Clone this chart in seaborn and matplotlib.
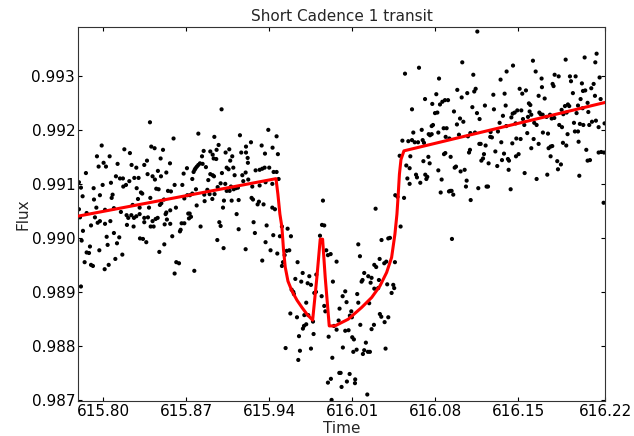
import numpy as np
import pandas as pd
import matplotlib
matplotlib.use("Agg")
import matplotlib.pyplot as plt
import seaborn as sns

pre_transit = [
    (615.7795, 0.99103), (615.7795, 0.99053), (615.7804, 0.99038), (615.7812, 0.99093), (615.7812, 0.98910),
    (615.7818, 0.98995), (615.7826, 0.99077), (615.7829, 0.99013), (615.7843, 0.98955), (615.7854, 0.99120),
    (615.7860, 0.99046), (615.7860, 0.98973), (615.7880, 0.98972), (615.7888, 0.98984), (615.7897, 0.99023),
    (615.7897, 0.98950), (615.7913, 0.98948), (615.7919, 0.99092), (615.7922, 0.99071), (615.7930, 0.99038),
    (615.7942, 0.99056), (615.7947, 0.99151), (615.7953, 0.99028), (615.7961, 0.99132), (615.7967, 0.98977),
    (615.7972, 0.99079), (615.7972, 0.99031), (615.7987, 0.99171), (615.7995, 0.99098), (615.8003, 0.99139),
    (615.8012, 0.98942), (615.8015, 0.99052), (615.8015, 0.99026), (615.8023, 0.99132), (615.8029, 0.99002),
    (615.8037, 0.98987), (615.8046, 0.98950), (615.8054, 0.99151), (615.8060, 0.99031), (615.8065, 0.99102),
    (615.8071, 0.99074), (615.8079, 0.99080), (615.8090, 0.99055), (615.8090, 0.99009), (615.8102, 0.98961),
    (615.8107, 0.99114), (615.8116, 0.98990), (615.8121, 0.99137), (615.8135, 0.99001), (615.8141, 0.99110),
    (615.8149, 0.99048), (615.8161, 0.98969), (615.8166, 0.99110), (615.8169, 0.99095), (615.8178, 0.99164),
    (615.8192, 0.99098), (615.8197, 0.99042), (615.8200, 0.99024), (615.8211, 0.99037), (615.8220, 0.99105),
    (615.8225, 0.99157), (615.8237, 0.99042), (615.8239, 0.99135), (615.8248, 0.99061), (615.8256, 0.99021),
    (615.8259, 0.99037), (615.8262, 0.99111), (615.8279, 0.99130), (615.8279, 0.99040), (615.8282, 0.99092),
    (615.8293, 0.99072), (615.8298, 0.99111), (615.8307, 0.99056), (615.8307, 0.99044), (615.8310, 0.98999),
    (615.8318, 0.99084), (615.8329, 0.99082), (615.8335, 0.98998), (615.8346, 0.99135), (615.8346, 0.99037),
    (615.8346, 0.99029), (615.8363, 0.98992), (615.8369, 0.99143), (615.8374, 0.99118), (615.8377, 0.99038),
    (615.8386, 0.99056), (615.8394, 0.99214), (615.8397, 0.99074), (615.8400, 0.99021), (615.8405, 0.99169),
    (615.8416, 0.99114), (615.8416, 0.99031), (615.8425, 0.99021), (615.8433, 0.99166), (615.8436, 0.99108),
    (615.8442, 0.99035), (615.8447, 0.99091), (615.8459, 0.99037), (615.8461, 0.99124), (615.8467, 0.99090),
    (615.8473, 0.98974), (615.8478, 0.99061), (615.8484, 0.99147), (615.8487, 0.99114), (615.8490, 0.99064),
    (615.8504, 0.99163), (615.8512, 0.99071), (615.8515, 0.98988), (615.8518, 0.99025), (615.8526, 0.99044),
    (615.8532, 0.99121), (615.8532, 0.99047), (615.8537, 0.99034), (615.8546, 0.99087), (615.8563, 0.99138),
    (615.8565, 0.99051), (615.8565, 0.99026), (615.8571, 0.99086), (615.8582, 0.99003), (615.8593, 0.99184),
    (615.8602, 0.99098), (615.8602, 0.98934), (615.8613, 0.99056), (615.8616, 0.98955),
    (615.8639, 0.98953), (615.8647, 0.99012), (615.8653, 0.99015), (615.8661, 0.99027), (615.8667, 0.99098),
    (615.8678, 0.99119), (615.8684, 0.99073), (615.8684, 0.99027), (615.8706, 0.99129), (615.8709, 0.99079),
    (615.8717, 0.99045), (615.8723, 0.99036), (615.8729, 0.99045), (615.8731, 0.99079), (615.8740, 0.99039),
    (615.8751, 0.99109), (615.8751, 0.99082), (615.8762, 0.99122), (615.8768, 0.98939), (615.8771, 0.99126),
    (615.8779, 0.99129), (615.8782, 0.99090), (615.8788, 0.99060), (615.8790, 0.99132), (615.8802, 0.99193),
    (615.8802, 0.99135), (615.8816, 0.99138), (615.8821, 0.99021), (615.8833, 0.99151), (615.8838, 0.99137),
    (615.8847, 0.99161), (615.8852, 0.99080), (615.8855, 0.99068), (615.8866, 0.99131), (615.8878, 0.99089),
    (615.8886, 0.99107), (615.8897, 0.99081), (615.8903, 0.99160), (615.8903, 0.99118), (615.8920, 0.99072),
    (615.8923, 0.99154), (615.8923, 0.99116), (615.8931, 0.99147), (615.8934, 0.99114), (615.8937, 0.99187),
    (615.8939, 0.99081), (615.8953, 0.99146), (615.8956, 0.99163), (615.8962, 0.98996), (615.8965, 0.99094),
    (615.8973, 0.99172), (615.8979, 0.99029), (615.8990, 0.99101), (615.8990, 0.99022), (615.8998, 0.99238),
    (615.9001, 0.99120), (615.9010, 0.99056), (615.9015, 0.98981), (615.9018, 0.99069), (615.9029, 0.99100),
    (615.9032, 0.99158), (615.9041, 0.99130), (615.9041, 0.99087), (615.9057, 0.99127), (615.9063, 0.99164),
    (615.9066, 0.99087), (615.9071, 0.99143), (615.9077, 0.99095), (615.9083, 0.99069), (615.9088, 0.99151),
    (615.9097, 0.99130), (615.9100, 0.99090), (615.9108, 0.99116), (615.9119, 0.99092), (615.9125, 0.99044),
    (615.9136, 0.99093), (615.9142, 0.99070), (615.9142, 0.99016), (615.9153, 0.99190), (615.9164, 0.99158),
    (615.9173, 0.99116), (615.9181, 0.99105), (615.9201, 0.99121), (615.9201, 0.98979), (615.9204, 0.99169),
    (615.9204, 0.99158), (615.9218, 0.99148), (615.9220, 0.99139), (615.9223, 0.99108), (615.9246, 0.99177),
    (615.9251, 0.99074), (615.9257, 0.99095), (615.9263, 0.99071), (615.9268, 0.99029), (615.9279, 0.99009),
    (615.9285, 0.99125), (615.9302, 0.99062), (615.9313, 0.99067), (615.9319, 0.99126), (615.9319, 0.99097),
    (615.9336, 0.99171), (615.9341, 0.99128), (615.9341, 0.98958), (615.9352, 0.99062), (615.9361, 0.99130),
    (615.9364, 0.99156), (615.9369, 0.99103), (615.9369, 0.98992), (615.9378, 0.99023), (615.9392, 0.99200),
    (615.9400, 0.99130), (615.9411, 0.98977), (615.9426, 0.99100), (615.9426, 0.99056), (615.9428, 0.99167),
    (615.9434, 0.99005), (615.9437, 0.99122), (615.9448, 0.99053), (615.9462, 0.99188), (615.9462, 0.99122),
    (615.9468, 0.98971), (615.9473, 0.99155), (615.9479, 0.99109), (615.9490, 0.99003),
]

in_transit = [
    (615.9507, 0.99021), (615.9507, 0.98948), (615.9516, 0.98955), (615.9530, 0.98968), (615.9538, 0.98796),
    (615.9547, 0.98976), (615.9555, 0.99017), (615.9569, 0.98977), (615.9578, 0.98860), (615.9583, 0.99003),
    (615.9589, 0.98904), (615.9603, 0.98900), (615.9608, 0.98896), (615.9620, 0.98924), (615.9634, 0.98853),
    (615.9639, 0.98955), (615.9645, 0.98774), (615.9651, 0.98818), (615.9659, 0.98791), (615.9670, 0.98919),
    (615.9682, 0.98935), (615.9684, 0.98832), (615.9693, 0.98837), (615.9696, 0.98857), (615.9712, 0.98880),
    (615.9712, 0.98840), (615.9724, 0.98916), (615.9729, 0.98857), (615.9738, 0.98929), (615.9752, 0.98913),
    (615.9752, 0.98795), (615.9769, 0.98845), (615.9774, 0.98822), (615.9780, 0.98898), (615.9794, 0.98900),
    (615.9797, 0.98932), (615.9828, 0.99004), (615.9842, 0.98892), (615.9845, 0.99024), (615.9853, 0.99069),
    (615.9864, 0.99023), (615.9864, 0.98874), (615.9873, 0.98864), (615.9881, 0.98977), (615.9895, 0.98968),
    (615.9895, 0.98732), (615.9901, 0.98817), (615.9918, 0.98970), (615.9920, 0.98739), (615.9926, 0.98700),
    (615.9932, 0.98778), (615.9937, 0.98919), (615.9946, 0.98837), (615.9968, 0.98956), (615.9968, 0.98830),
    (615.9985, 0.98847), (615.9991, 0.98750), (615.9993, 0.98869),
    (616.0002, 0.98750), (616.0010, 0.98724), (616.0019, 0.98892), (616.0021, 0.98797), (616.0041, 0.98901),
    (616.0041, 0.98828), (616.0052, 0.98881), (616.0055, 0.98734), (616.0069, 0.98829), (616.0078, 0.98748),
    (616.0080, 0.98856), (616.0092, 0.98864), (616.0097, 0.98853), (616.0100, 0.98816), (616.0109, 0.98789),
    (616.0114, 0.98812), (616.0123, 0.98731), (616.0125, 0.98738), (616.0137, 0.98793), (616.0142, 0.98896),
    (616.0151, 0.98988), (616.0151, 0.98880), (616.0165, 0.98966), (616.0168, 0.98839), (616.0179, 0.98919),
    (616.0187, 0.98922), (616.0190, 0.98785), (616.0201, 0.98935), (616.0201, 0.98792), (616.0215, 0.98806),
    (616.0227, 0.98710), (616.0232, 0.98789), (616.0235, 0.98929), (616.0243, 0.98879), (616.0249, 0.98789),
    (616.0255, 0.98917), (616.0263, 0.98926), (616.0263, 0.98831), (616.0283, 0.98839), (616.0286, 0.98950),
    (616.0286, 0.98906), (616.0297, 0.99054), (616.0302, 0.98946), (616.0319, 0.98907), (616.0325, 0.98922),
    (616.0331, 0.98961), (616.0333, 0.98859), (616.0345, 0.98854), (616.0347, 0.98996), (616.0370, 0.98953),
    (616.0373, 0.98844), (616.0381, 0.98795), (616.0387, 0.98956), (616.0395, 0.98914), (616.0404, 0.98999),
    (616.0404, 0.98853), (616.0418, 0.99000), (616.0432, 0.98898), (616.0446, 0.98913), (616.0454, 0.98907),
    (616.0460, 0.98955), (616.0463, 0.99079), (616.0482, 0.99076), (616.0508, 0.99021),
]

post_transit = [
    (616.0500, 0.99152), (616.0523, 0.99180), (616.0537, 0.99074), (616.0545, 0.99304), (616.0556, 0.99134),
    (616.0565, 0.99110), (616.0573, 0.99179), (616.0584, 0.99129), (616.0584, 0.99100), (616.0590, 0.99151),
    (616.0604, 0.99238), (616.0604, 0.99181), (616.0615, 0.99195), (616.0627, 0.99177), (616.0638, 0.99117),
    (616.0646, 0.99112), (616.0655, 0.99177), (616.0663, 0.99315), (616.0674, 0.99102), (616.0686, 0.99200),
    (616.0694, 0.99181), (616.0700, 0.99142), (616.0705, 0.99176), (616.0714, 0.99257), (616.0716, 0.99117),
    (616.0725, 0.99109), (616.0733, 0.99113), (616.0742, 0.99150), (616.0745, 0.99192), (616.0753, 0.99138),
    (616.0756, 0.99190), (616.0770, 0.99207), (616.0770, 0.99192), (616.0775, 0.99248), (616.0781, 0.99209),
    (616.0798, 0.99231), (616.0809, 0.99266), (616.0818, 0.99232), (616.0826, 0.99195), (616.0826, 0.99125),
    (616.0832, 0.99295), (616.0840, 0.99247), (616.0846, 0.99084), (616.0854, 0.99108), (616.0860, 0.99252),
    (616.0871, 0.99203), (616.0874, 0.99155), (616.0882, 0.99255), (616.0885, 0.99157), (616.0888, 0.99187),
    (616.0896, 0.99203), (616.0908, 0.99255), (616.0916, 0.99086), (616.0919, 0.99184), (616.0927, 0.99087),
    (616.0930, 0.99150), (616.0938, 0.99087), (616.0941, 0.98998), (616.0952, 0.99080), (616.0958, 0.99234),
    (616.0964, 0.99130), (616.0975, 0.99132), (616.0983, 0.99210), (616.0986, 0.99274), (616.1000, 0.99191),
    (616.1009, 0.99221), (616.1014, 0.99123), (616.1023, 0.99260), (616.1028, 0.99325), (616.1037, 0.99215),
    (616.1048, 0.99126), (616.1059, 0.99095), (616.1065, 0.99106), (616.1070, 0.99268), (616.1076, 0.99188),
    (616.1085, 0.99158), (616.1093, 0.99163), (616.1096, 0.99194), (616.1099, 0.99070), (616.1113, 0.99242),
    (616.1121, 0.99302), (616.1129, 0.99271), (616.1135, 0.99195), (616.1141, 0.99276), (616.1152, 0.99231),
    (616.1155, 0.99382), (616.1163, 0.99092), (616.1172, 0.99174), (616.1174, 0.99220), (616.1183, 0.99174),
    (616.1189, 0.99143), (616.1203, 0.99147), (616.1211, 0.99155), (616.1219, 0.99245), (616.1225, 0.99171),
    (616.1233, 0.99095), (616.1245, 0.99095), (616.1250, 0.99138), (616.1264, 0.99187), (616.1267, 0.99196),
    (616.1278, 0.99186), (616.1290, 0.99265), (616.1295, 0.99238), (616.1307, 0.99160), (616.1323, 0.99133),
    (616.1329, 0.99197), (616.1343, 0.99213), (616.1351, 0.99293), (616.1357, 0.99177), (616.1363, 0.99144),
    (616.1371, 0.99226), (616.1380, 0.99156), (616.1385, 0.99267), (616.1394, 0.99245), (616.1399, 0.99207),
    (616.1402, 0.99308), (616.1413, 0.99146), (616.1419, 0.99126), (616.1422, 0.99143), (616.1436, 0.99090),
    (616.1442, 0.99223), (616.1450, 0.99175), (616.1453, 0.99230), (616.1456, 0.99319), (616.1470, 0.99232),
    (616.1478, 0.99212), (616.1481, 0.99151), (616.1484, 0.99184), (616.1492, 0.99236), (616.1503, 0.99155),
    (616.1512, 0.99276), (616.1520, 0.99183), (616.1526, 0.99236), (616.1534, 0.99267), (616.1540, 0.99220),
    (616.1551, 0.99209), (616.1554, 0.99120), (616.1565, 0.99273), (616.1576, 0.99194), (616.1582, 0.99224),
    (616.1590, 0.99249), (616.1596, 0.99234), (616.1602, 0.99246), (616.1610, 0.99228), (616.1610, 0.99166),
    (616.1624, 0.99328), (616.1630, 0.99183), (616.1635, 0.99213), (616.1647, 0.99308), (616.1655, 0.99209),
    (616.1655, 0.99109), (616.1672, 0.99263), (616.1672, 0.99174), (616.1678, 0.99232), (616.1689, 0.99229),
    (616.1697, 0.99295), (616.1700, 0.99279), (616.1706, 0.99228), (616.1708, 0.99195), (616.1723, 0.99258),
    (616.1739, 0.99224), (616.1745, 0.99117), (616.1751, 0.99193), (616.1756, 0.99166), (616.1768, 0.99228),
    (616.1773, 0.99169), (616.1773, 0.99151), (616.1782, 0.99221), (616.1787, 0.99170), (616.1790, 0.99285),
    (616.1798, 0.99281), (616.1804, 0.99222), (616.1807, 0.99302), (616.1829, 0.99142), (616.1835, 0.99127),
    (616.1841, 0.99299), (616.1846, 0.99209), (616.1860, 0.99136), (616.1866, 0.99237), (616.1869, 0.99205),
    (616.1877, 0.99176), (616.1880, 0.99229), (616.1894, 0.99244), (616.1900, 0.99330), (616.1905, 0.99171),
    (616.1908, 0.99232), (616.1916, 0.99192), (616.1919, 0.99247), (616.1930, 0.99244), (616.1936, 0.99299),
    (616.1945, 0.99290), (616.1961, 0.99268), (616.1970, 0.99213), (616.1978, 0.99197), (616.1984, 0.99299),
    (616.1992, 0.99231), (616.2004, 0.99245), (616.2004, 0.99197), (616.2009, 0.99178), (616.2015, 0.99115),
    (616.2020, 0.99211), (616.2026, 0.99257), (616.2037, 0.99286), (616.2043, 0.99240), (616.2046, 0.99272),
    (616.2049, 0.99209), (616.2060, 0.99334), (616.2065, 0.99273), (616.2074, 0.99163), (616.2085, 0.99250),
    (616.2085, 0.99143), (616.2091, 0.99233), (616.2099, 0.99209), (616.2105, 0.99144), (616.2116, 0.99277),
    (616.2122, 0.99215), (616.2136, 0.99285), (616.2147, 0.99263), (616.2150, 0.99325), (616.2155, 0.99217),
    (616.2161, 0.99341), (616.2178, 0.99205), (616.2178, 0.99158), (616.2186, 0.99297), (616.2195, 0.99257),
    (616.2200, 0.99159), (616.2220, 0.99065), (616.2223, 0.99158), (616.2228, 0.99212),
]

# fitted transit model (red curve)
model_time = [615.7787, 615.9457, 615.9473, 615.9490, 615.9507, 615.9520, 615.9535, 615.9558,
              615.9591, 615.9634, 615.9676, 615.9718, 615.9766, 615.9802, 615.9830, 615.9850,
              615.9872, 615.9906, 615.9954, 616.0066, 616.0179, 616.0264, 616.0334, 616.0390,
              616.0432, 616.0460, 616.0477, 616.0488, 616.0498, 616.0511, 616.0536, 616.2232]
model_flux = [0.990402, 0.991096, 0.990809, 0.990439, 0.990198, 0.989791, 0.989457, 0.989198,
              0.989019, 0.988846, 0.988711, 0.988587, 0.988476, 0.989272, 0.989976, 0.989976,
              0.989272, 0.988370, 0.988370, 0.988494, 0.988711, 0.988896, 0.989111, 0.989359,
              0.989637, 0.990069, 0.990439, 0.990809, 0.991180, 0.991450, 0.991611, 0.992507]

x_ticks = [615.80, 615.87, 615.94, 616.01, 616.08, 616.15, 616.2232]
x_tick_labels = ["615.80", "615.87", "615.94", "616.01", "616.08", "616.15", "616.22"]
y_ticks = [0.987, 0.988, 0.989, 0.990, 0.991, 0.992, 0.993]
y_tick_labels = ["0.987", "0.988", "0.989", "0.990", "0.991", "0.992", "0.993"]

obs = pd.DataFrame(pre_transit + in_transit + post_transit, columns=["Time", "Flux"])
model = pd.DataFrame({"Time": model_time, "Flux": model_flux})

sns.set_style("white")
plt.rcParams["font.family"] = ["DejaVu Sans"]

fig = plt.figure(figsize=(6.34, 4.36), dpi=100)
ax = fig.add_axes([0.123, 0.0803, 0.9543 - 0.123, 0.9388 - 0.0803])

sns.scatterplot(data=obs, x="Time", y="Flux", ax=ax, color="black", s=9,
                linewidth=0, edgecolor="none", zorder=2)
sns.lineplot(data=model, x="Time", y="Flux", ax=ax, color="red", linewidth=2.2,
             sort=False, estimator=None, zorder=3)

ax.set_xlim(615.7787, 616.2232)
ax.set_ylim(0.98698, 0.99391)
ax.set_xticks(x_ticks)
ax.set_xticklabels(x_tick_labels)
ax.set_yticks(y_ticks)
ax.set_yticklabels(y_tick_labels)
ax.tick_params(direction="in", length=3, width=0.8, top=True, right=True,
               bottom=True, left=True, labelsize=11, colors="black", pad=2)
for sp in ax.spines.values():
    sp.set_color("#333333")
    sp.set_linewidth(0.8)
ax.set_xlabel("Time", fontsize=11, labelpad=1.5)
ax.set_ylabel("Flux", fontsize=11, labelpad=1)
ax.set_title("Short Cadence 1 transit", fontsize=11, pad=4)

fig.savefig("out.png", dpi=100)
